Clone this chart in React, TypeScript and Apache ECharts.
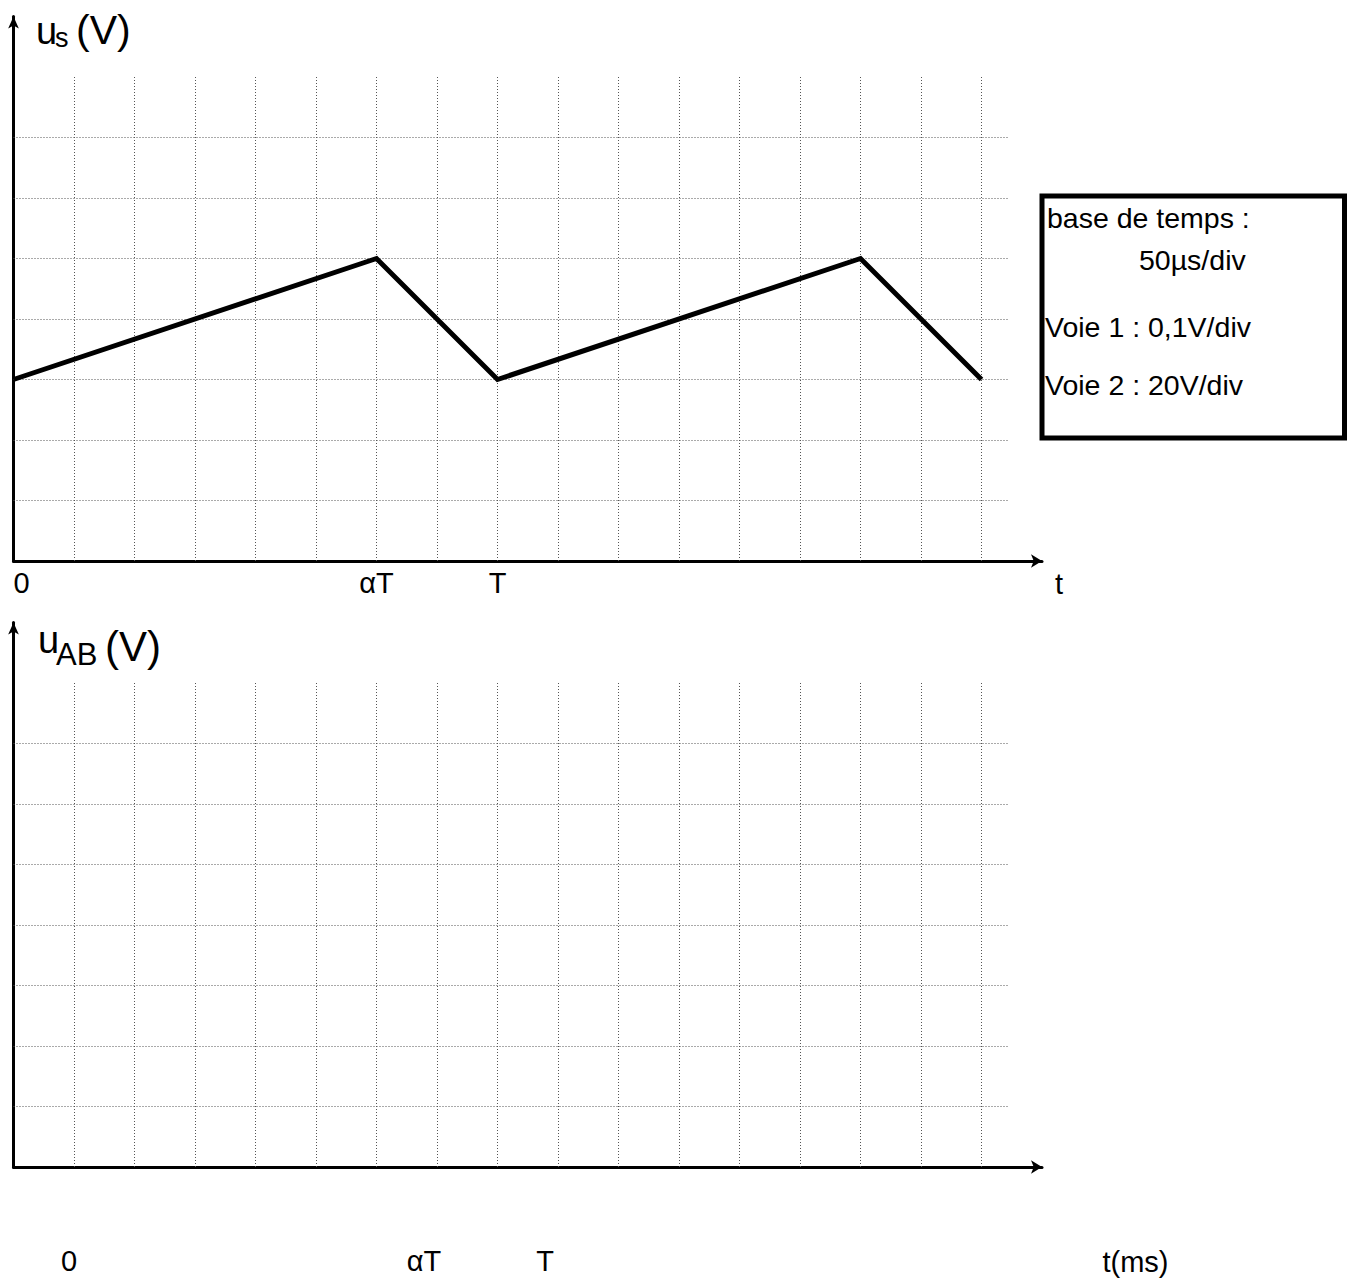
import React, { useEffect, useRef } from 'react';
import * as echarts from 'echarts';

// waveform u_s (divisions)
const waveT = [0, 6, 8, 14, 16];
const waveU = [3, 5, 3, 5, 3];

// oscilloscope graticule (divisions)
const vGridX = [1, 2, 3, 4, 5, 6, 7, 8, 9, 10, 11, 12, 13, 14, 15, 16];
const hGridY = [1, 2, 3, 4, 5, 6, 7];
const vGridTop = 8;
const hGridEnd = 16.43;
const xMax = 17;
const yMax = 9;

// tick labels
const tickValues = [0, 6, 8];
const tickTexts = ['0', 'αT', 'T'];

const legendLines = ['base de temps :', '50µs/div', 'Voie 1 : 0,1V/div', 'Voie 2 : 20V/div'];

const FONT = "'Liberation Sans', Arial, sans-serif";
const LABEL_SIZE = 29;

const labelFormatter = (v: number) => {
  const i = tickValues.indexOf(Math.round(v * 1000) / 1000);
  return i >= 0 ? tickTexts[i] : '';
};

const gridMarks = () => [
  ...vGridX.map((x) => [{ coord: [x, 0] }, { coord: [x, vGridTop] }]),
  ...hGridY.map((y) => [{ coord: [0, y] }, { coord: [hGridEnd, y] }]),
];

const markLineCfg = () => ({
  silent: true,
  symbol: ['none', 'none'],
  label: { show: false },
  lineStyle: { color: '#555', width: 1, type: [1, 2] },
  data: gridMarks(),
});

export default function App() {
  const ref = useRef<HTMLDivElement>(null);
  useEffect(() => {
    if (!ref.current) return;
    const chart = echarts.init(ref.current, null, { renderer: 'svg' });
    const axisLineStyle = { color: '#000', width: 3 };
    const labelCfg = (margin: number) => ({
      show: true,
      margin,
      fontSize: LABEL_SIZE,
      fontFamily: FONT,
      color: '#000',
      verticalAlign: 'top',
      alignMinLabel: 'left',
      showMinLabel: true,
      showMaxLabel: false,
      formatter: labelFormatter,
    });
    const baseX = (gridIndex: number, withLabels: boolean) => ({
      type: 'value',
      gridIndex,
      min: 0,
      max: xMax,
      interval: 1,
      axisLine: {
        show: true,
        onZero: false,
        symbol: ['none', 'arrow'],
        symbolSize: [10, 11],
        lineStyle: axisLineStyle,
      },
      axisTick: { show: false },
      splitLine: { show: false },
      axisLabel: withLabels ? labelCfg(7) : { show: false },
    });
    const baseY = (gridIndex: number) => ({
      type: 'value',
      gridIndex,
      min: 0,
      max: yMax,
      interval: 1,
      axisLine: {
        show: true,
        onZero: false,
        symbol: ['none', 'arrow'],
        symbolSize: [8, 12],
        lineStyle: axisLineStyle,
      },
      axisTick: { show: false },
      splitLine: { show: false },
      axisLabel: { show: false },
    });

    const txt = (text: string, x: number, y: number, size: number) => ({
      type: 'text',
      x,
      y,
      silent: true,
      style: {
        text,
        fontSize: size,
        fontFamily: FONT,
        fill: '#000',
        align: 'left',
        verticalAlign: 'middle',
      },
    });

    chart.setOption({
      animation: false,
      backgroundColor: '#fff',
      grid: [
        { left: 13.5, top: 16.5, width: 1028.5, height: 544.5 },
        { left: 13.5, top: 622.5, width: 1028.5, height: 544.5 },
        { left: 61, top: 622.5, width: 1028.5, height: 544.5 },
      ],
      xAxis: [
        {
          ...baseX(0, true),
          name: 't',
          nameLocation: 'end',
          nameGap: 13,
          nameTextStyle: {
            fontSize: LABEL_SIZE,
            fontFamily: FONT,
            color: '#000',
            verticalAlign: 'top',
            padding: [8, 0, 0, 0],
          },
        },
        baseX(1, false),
        {
          ...baseX(2, true),
          axisLine: { show: false },
          axisLabel: labelCfg(79),
          name: 't(ms)',
          nameLocation: 'end',
          nameGap: 13,
          nameTextStyle: {
            fontSize: LABEL_SIZE,
            fontFamily: FONT,
            color: '#000',
            verticalAlign: 'top',
            padding: [80, 0, 0, 0],
          },
        },
      ],
      yAxis: [baseY(0), baseY(1), { ...baseY(2), show: false }],
      series: [
        {
          type: 'line',
          xAxisIndex: 0,
          yAxisIndex: 0,
          data: [],
          z: 1,
          markLine: markLineCfg(),
        },
        {
          type: 'line',
          xAxisIndex: 1,
          yAxisIndex: 1,
          data: [],
          z: 1,
          markLine: markLineCfg(),
        },
        {
          type: 'line',
          xAxisIndex: 0,
          yAxisIndex: 0,
          z: 5,
          symbol: 'none',
          lineStyle: { color: '#000', width: 5, join: 'miter' },
          data: waveT.map((t, i) => [t, waveU[i]]),
        },
      ],
      graphic: [
        txt('u', 36, 30.5, 38),
        txt('s', 55, 38, 27),
        txt('(V)', 76, 30, 41),
        txt('u', 38, 640, 38),
        txt('AB', 56, 654.5, 31),
        txt('(V)', 105, 646, 42),
        {
          type: 'rect',
          shape: { x: 1042, y: 196, width: 302.5, height: 242 },
          style: { fill: '#fff', stroke: '#000', lineWidth: 5 },
          silent: true,
        },
        txt(legendLines[0], 1047, 218, 28.5),
        txt(legendLines[1], 1139, 260, 28.5),
        txt(legendLines[2], 1045, 327, 28.5),
        txt(legendLines[3], 1045, 385, 28.5),
      ],
    });
    return () => chart.dispose();
  }, []);
  return (
    <div
      ref={ref}
      style={{ position: 'absolute', left: 0, top: 0, width: 1354, height: 1278 }}
    />
  );
}
